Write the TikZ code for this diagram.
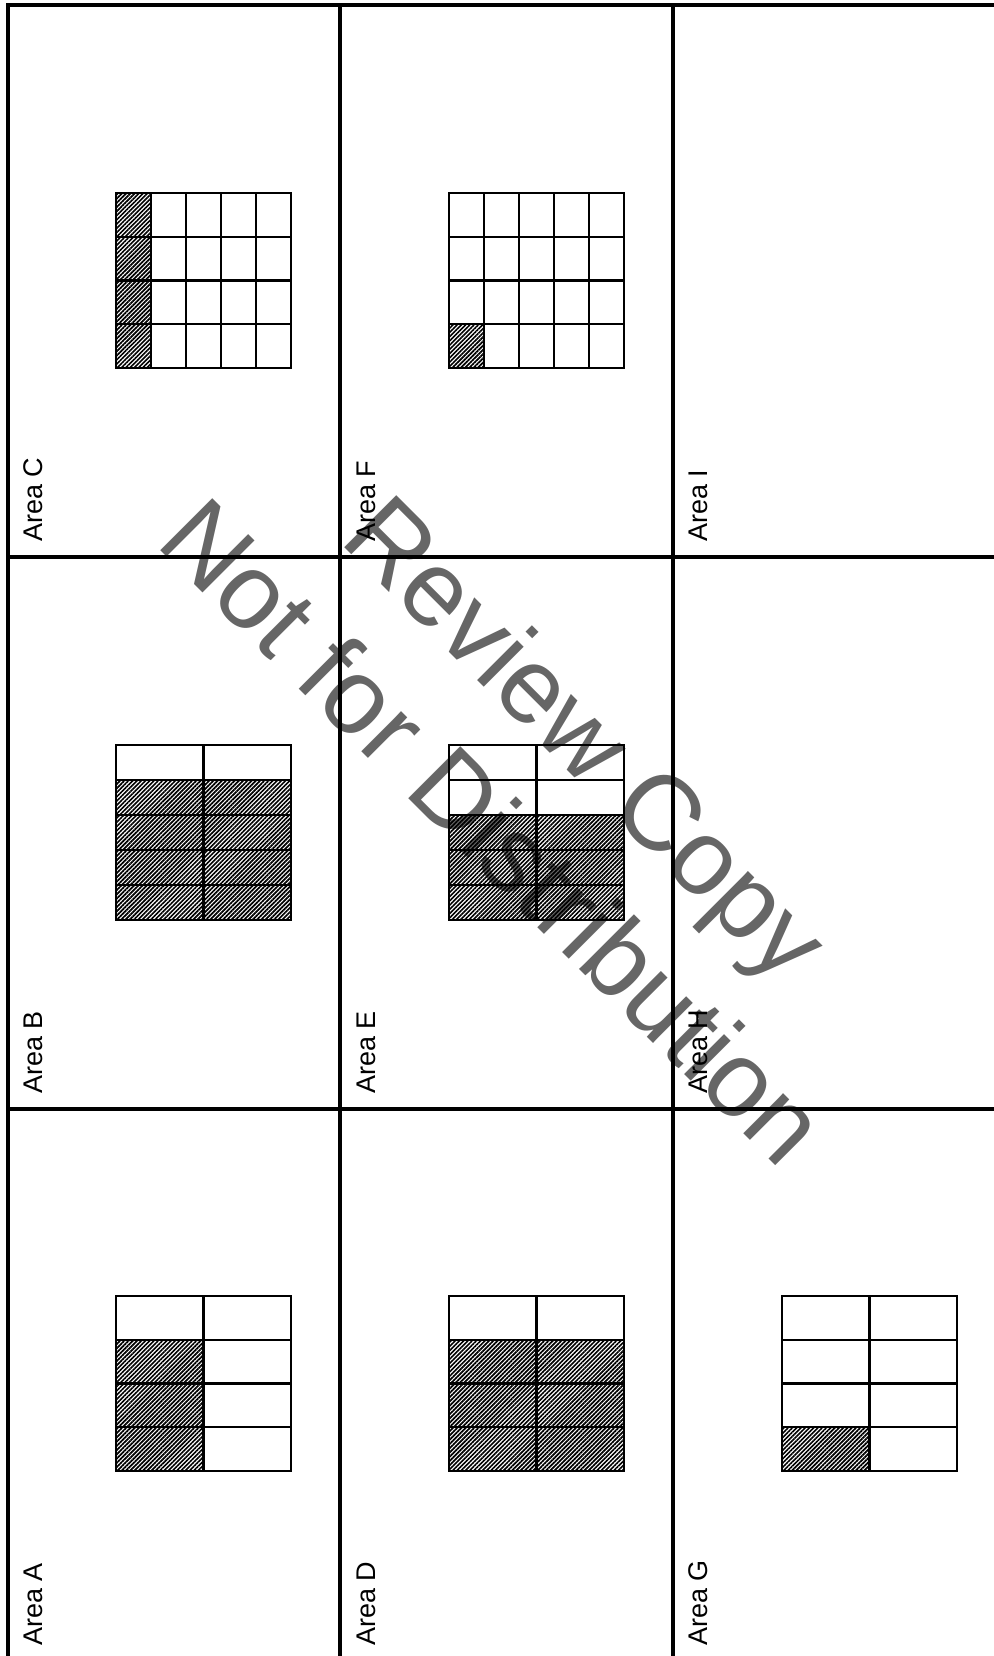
\documentclass[tikz,border=0pt]{standalone}
\usepackage{fontspec}
\setmainfont{Liberation Sans}
\usetikzlibrary{patterns.meta}
\definecolor{wmgray}{RGB}{102,102,102}
\tikzset{
  frameline/.style={line width=1.9pt, black},
  gridline/.style={line width=1.1pt, black},
  hatch/.style={pattern={Lines[angle=45,distance=1.5pt,line width=0.85pt]}, pattern color=black},
  arealabel/.style={rotate=90, anchor=base west, inner sep=0pt, font=\fontsize{13.5}{16}\selectfont},
  watermark/.style={rotate=-45, anchor=base, inner sep=0pt, text=wmgray, font=\fontsize{53.5}{64}\selectfont},
}
\newcommand\cellgrid[4]{%
  \pgfmathsetmacro\gcw{175/#3}%
  \pgfmathsetmacro\gch{175/#4}%
  \foreach \i in {1,...,#3}{%
    \foreach \j in {1,...,#4}{%
      \draw[gridline] ({#1+(\i-1)*\gcw},{#2+(\j-1)*\gch}) rectangle ++(\gcw,\gch);
    }%
  }%
}
\newcommand\hatchcell[6]{%
  \fill[hatch] ({#1+(#5-1)*175/#3},{#2+(#6-1)*175/#4}) rectangle ++({175/#3},{175/#4});
}
\begin{document}
\begin{tikzpicture}[x=0.5pt,y=-0.5pt]
\useasboundingbox (0,0) rectangle (994,1656);
\clip (0,0) rectangle (994,1656);
% watermark (behind everything)
\node[watermark] (wm1) at (561,764) {Review Copy};
\node[watermark] (wm2) at (467.5,857.5) {Not for Distribution};
% Area C: 5x4, left column hatched
\foreach \j in {1,...,4}{\hatchcell{116}{193}{5}{4}{1}{\j}}
\cellgrid{116}{193}{5}{4}
% Area B: 2x5, bottom four rows hatched
\foreach \i in {1,2}{\foreach \j in {2,...,5}{\hatchcell{116}{745}{2}{5}{\i}{\j}}}
\cellgrid{116}{745}{2}{5}
% Area A: 2x4, left column rows 2-4 hatched
\foreach \j in {2,...,4}{\hatchcell{116}{1296}{2}{4}{1}{\j}}
\cellgrid{116}{1296}{2}{4}
% Area F: 5x4, bottom-left hatched
\hatchcell{449}{193}{5}{4}{1}{4}
\cellgrid{449}{193}{5}{4}
% Area E: 2x5, bottom three rows hatched
\foreach \i in {1,2}{\foreach \j in {3,...,5}{\hatchcell{449}{745}{2}{5}{\i}{\j}}}
\cellgrid{449}{745}{2}{5}
% Area D: 2x4, rows 2-4 hatched
\foreach \i in {1,2}{\foreach \j in {2,...,4}{\hatchcell{449}{1296}{2}{4}{\i}{\j}}}
\cellgrid{449}{1296}{2}{4}
% Area G: 2x4, bottom-left hatched
\hatchcell{782}{1296}{2}{4}{1}{4}
\cellgrid{782}{1296}{2}{4}
% frame
\draw[frameline] (8,5) rectangle (1006,1661);
\draw[frameline] (340,5) -- (340,1661);
\draw[frameline] (673,5) -- (673,1661);
\draw[frameline] (8,557) -- (1006,557);
\draw[frameline] (8,1109) -- (1006,1109);
% labels
\node[arealabel] (lC) at (42,542) {Area C};
\node[arealabel] (lB) at (42,1094) {Area B};
\node[arealabel] (lA) at (42,1646) {Area A};
\node[arealabel] (lF) at (375,542) {Area F};
\node[arealabel] (lE) at (375,1094) {Area E};
\node[arealabel] (lD) at (375,1646) {Area D};
\node[arealabel] (lI) at (707,542) {Area I};
\node[arealabel] (lH) at (707,1094) {Area H};
\node[arealabel] (lG) at (707,1646) {Area G};
\end{tikzpicture}
\end{document}
